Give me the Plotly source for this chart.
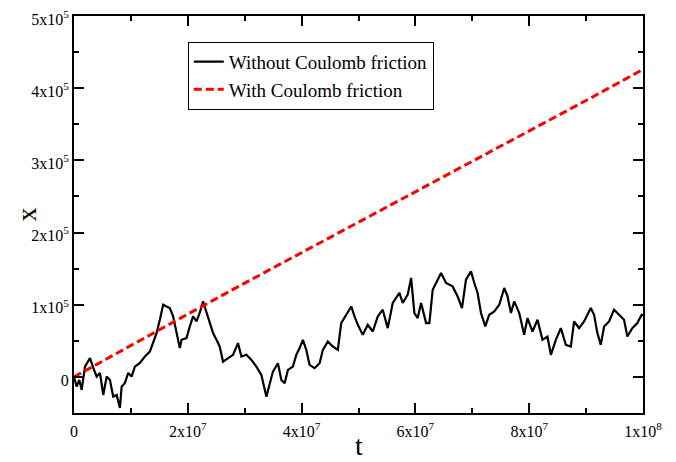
import plotly.graph_objects as go

# Without Coulomb friction (t in units of 1e6, x in units of 1e3)
t_free = [0, 0.47, 0.93, 1.35, 1.93, 2.81, 3.39, 3.98, 4.56, 5.14, 5.74, 6.32, 6.89, 7.49, 8.07, 8.37, 8.95,
          9.53, 10.12, 10.7, 11.58, 12.46, 13.33, 13.91, 14.51, 15.09, 15.67, 16.26, 16.84, 17.42, 18.02, 18.6,
          18.9, 19.77, 20.35, 20.93, 21.53, 22.1, 22.68, 23.28, 23.86, 24.44, 25.04, 25.61, 26.19, 27.07, 27.95,
          28.82, 29.42, 30.3, 31.18, 32.05, 32.93, 33.81, 34.39, 34.96, 35.84, 36.44, 37.02, 37.6, 38.47, 39.07,
          39.65, 40.23, 40.82, 41.4, 42.28, 43.16, 43.74, 44.61, 45.49, 46.37, 46.96, 47.84, 48.72, 49.3, 49.88,
          50.75, 51.63, 52.51, 53.39, 54.26, 55.14, 56.02, 57.19, 57.77, 58.65, 59.25, 59.82, 60.4, 61.0, 61.88,
          62.46, 63.04, 63.91, 64.51, 65.39, 66.54, 67.42, 68.19, 68.89, 69.77, 70.35, 70.93, 71.53, 72.28, 72.98,
          73.86, 74.74, 75.61, 76.19, 76.79, 77.37, 78.25, 79.12, 79.7, 80.58, 81.46, 82.33, 83.21, 83.81, 84.68,
          85.56, 86.44, 87.32, 87.89, 88.77, 89.65, 90.82, 91.4, 91.98, 92.58, 93.16, 94.04, 94.91, 95.79, 96.67,
          97.25, 98.12, 99.0, 99.77, 100.0]
x_free = [0, -13.5, -4.2, -18, 14.3, 26, 12.5, 0.4, 5.6, -25, 0.4, -4.2, -27.4, -25, -43, -13.5, -8.3,
          5.6, 0.4, 14.3, 19.4, 28.2, 35.1, 49, 60.7, 79.2, 100, 97.6, 95.4, 83.8, 60.7, 39.9,
          51.4, 53.8, 69.9, 83.8, 76.8, 88.9, 104.6, 90.7, 75, 60.7, 51.4, 42.1, 21.2, 26, 30.6,
          46.8, 28.2, 30.6, 23.6, 14.3, 2.8, -27.4, -8.8, 7.4, 19, -4.2, -8.8, 9.7, 14.3, 30.6,
          39.9, 51.4, 37.5, 16.7, 12.1, 19, 37.5, 49, 42.1, 37.5, 74.6, 86.1, 97.6, 83.8, 72.2,
          58.3, 72.2, 62.9, 83.8, 93.1, 67.6, 102.4, 116.3, 102.4, 113.9, 137.1, 88.5, 81.5, 102.4, 74.6,
          74.6, 120.8, 134.7, 144, 130.1, 125.4, 111.5, 95.4, 134.7, 146.2, 130.1, 116.3, 88.5, 69.9, 86.1,
          90.7, 100, 123.2, 111.5, 88.5, 104.6, 88.5, 58.3, 81.5, 62.9, 79.2, 51.4, 56, 30.6, 51.4,
          67.6, 44.4, 42.1, 76.8, 67.6, 76.8, 95.4, 86.1, 60.7, 44.4, 69.9, 76.8, 93.1, 86.1, 79.2,
          56, 67.6, 74.6, 86.1, 85]

# With Coulomb friction
t_fric = [0, 10, 20, 30, 40, 50, 60, 70, 80, 90, 100]
x_fric = [0, 44, 87, 130, 172, 214, 256, 298, 340, 383, 426]

x_tickvals = [0, 2e7, 4e7, 6e7, 8e7, 1e8]
x_ticktext = ["0", "2x10<sup>7</sup>", "4x10<sup>7</sup>", "6x10<sup>7</sup>", "8x10<sup>7</sup>", "1x10<sup>8</sup>"]
y_tickvals = [0, 1e5, 2e5, 3e5, 4e5, 5e5]
y_ticktext = ["0", "1x10<sup>5</sup>", "2x10<sup>5</sup>", "3x10<sup>5</sup>", "4x10<sup>5</sup>", "5x10<sup>5</sup>"]
x_title = "t"
y_title = "x"

font = "Liberation Serif, Times New Roman, serif"

fig = go.Figure()
fig.add_trace(go.Scatter(x=[v * 1e6 for v in t_free], y=[v * 1e3 for v in x_free], mode="lines",
                         name="Without Coulomb friction",
                         line=dict(color="black", width=2.2)))
fig.add_trace(go.Scatter(x=[v * 1e6 for v in t_fric], y=[v * 1e3 for v in x_fric], mode="lines",
                         name="With Coulomb friction",
                         line=dict(color="#ff0000", width=3, dash="8px,4px")))

axis_common = dict(showgrid=False, zeroline=False, showline=True, linecolor="black", linewidth=2,
                   mirror="ticks", ticks="inside", ticklen=10, tickwidth=1.5, tickcolor="black",
                   automargin=False, ticklabeloverflow="allow",
                   tickfont=dict(family=font, size=16, color="black"))

fig.update_layout(
    width=660, height=454,
    margin=dict(l=66, r=25, t=8, b=49),
    paper_bgcolor="white", plot_bgcolor="white",
    font=dict(family=font, color="black"),
    xaxis=dict(range=[0, 1e8], tickvals=x_tickvals, ticktext=x_ticktext, ticklabelstandoff=3,
               minor=dict(ticks="inside", ticklen=5, tickwidth=1.5, tickcolor="black", dtick=1e7, tick0=0),
               **axis_common),
    yaxis=dict(range=[-5e4, 5e5], tickvals=y_tickvals, ticktext=y_ticktext, ticklabelshift=3,
               minor=dict(ticks="inside", ticklen=5, tickwidth=1.5, tickcolor="black", dtick=5e4, tick0=0),
               **axis_common),
    legend=dict(x=0.2, y=0.935, xanchor="left", yanchor="top", bgcolor="white",
                bordercolor="black", borderwidth=1, itemwidth=30, tracegroupgap=0,
                font=dict(family=font, size=19, color="black")),
    showlegend=True,
    annotations=[
        dict(text=x_title, xref="paper", yref="paper", x=0.5, y=0, xanchor="center", yanchor="middle",
             yshift=-32, showarrow=False, font=dict(family=font, size=28, color="black")),
        dict(text=y_title, xref="paper", yref="paper", x=0, y=0.5, xanchor="center", yanchor="middle",
             xshift=-48, textangle=-90, showarrow=False, font=dict(family=font, size=28, color="black")),
    ],
)

fig.write_html("out.html")
